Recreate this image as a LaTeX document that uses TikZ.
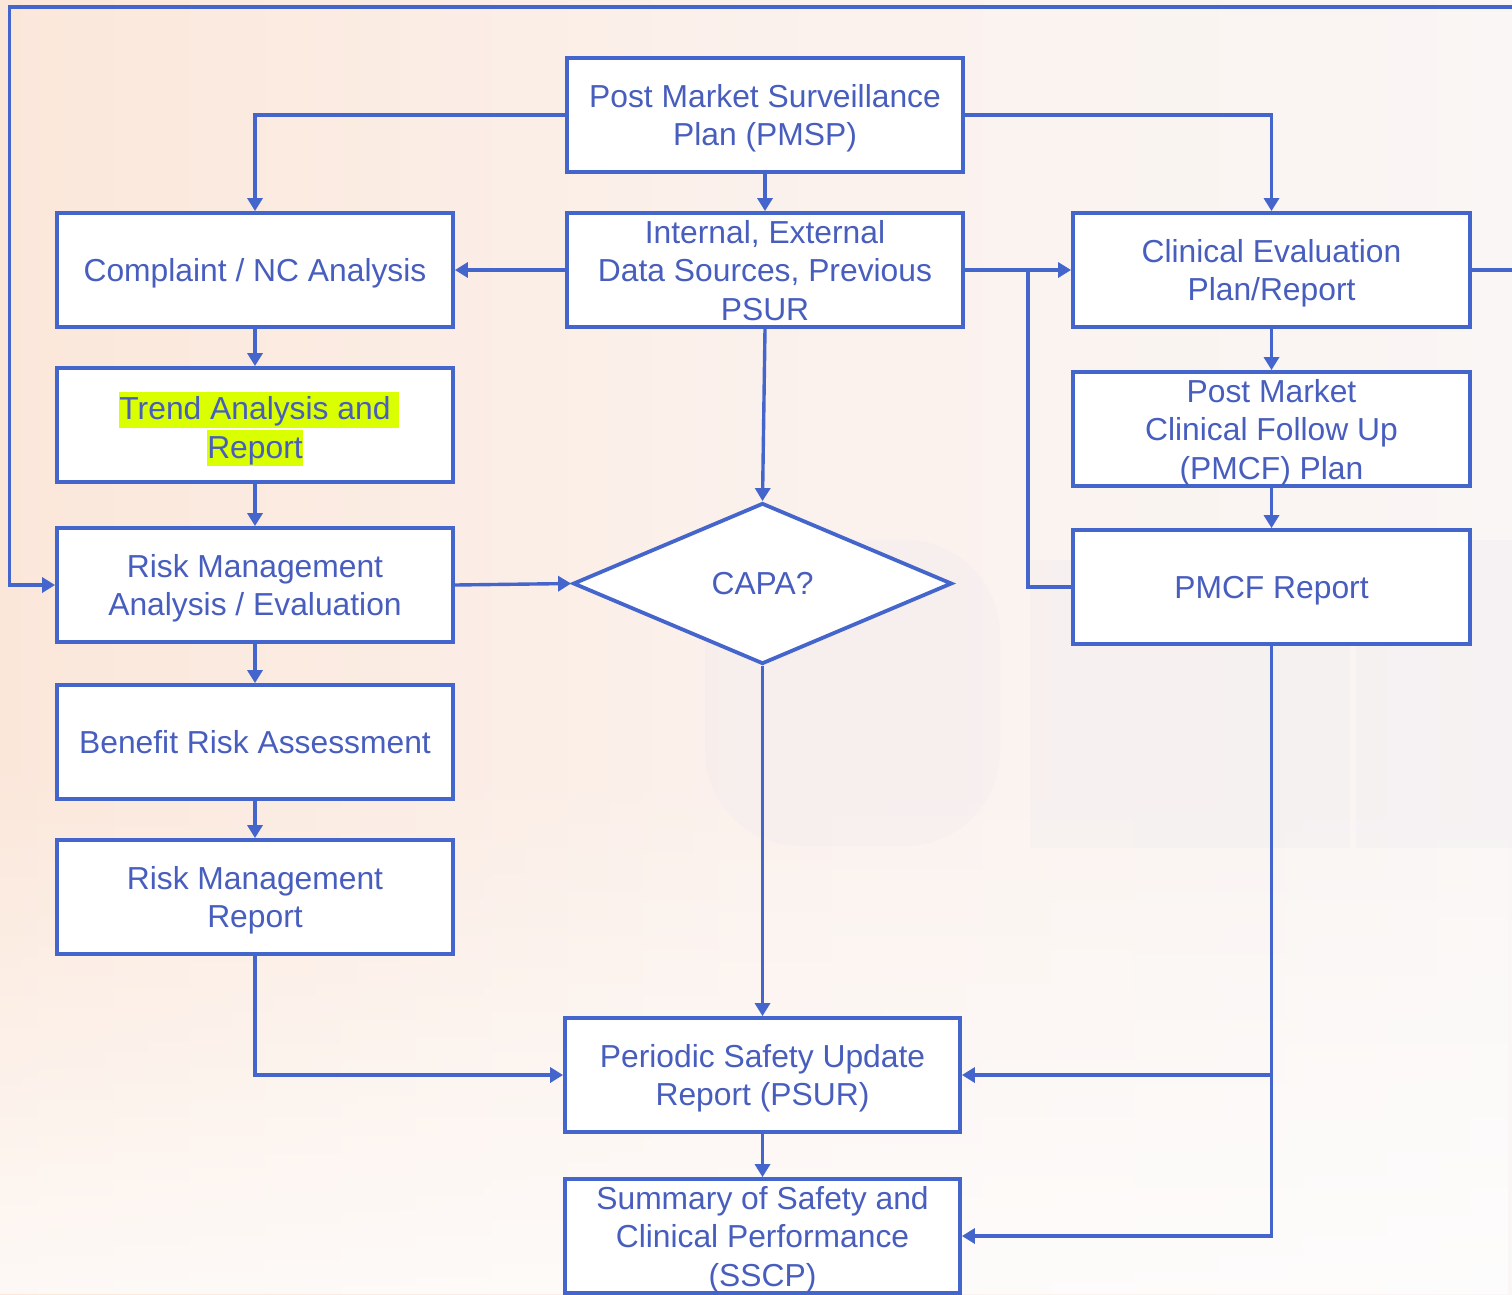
\documentclass[tikz,border=0pt]{standalone}
\usepackage{fontspec}
\setmainfont{Liberation Sans}
\usetikzlibrary{arrows.meta,shapes.geometric,fadings}
\definecolor{lineblue}{RGB}{68,102,204}
\definecolor{textblue}{RGB}{72,94,190}
\definecolor{hly}{RGB}{217,255,0}
\definecolor{bgpeach}{RGB}{251,231,218}
\definecolor{bgmid}{RGB}{251,241,236}
\definecolor{bgright}{RGB}{250,246,245}
\definecolor{wmark}{RGB}{241,236,240}
\newcommand\hlbox[1]{{\setlength{\fboxsep}{0pt}\colorbox{hly}{\rule[-8pt]{0pt}{36pt}#1}}}
\begin{document}
\begin{tikzpicture}[x=1pt,y=-1pt,
  box/.style={draw=lineblue, line width=3.8pt, fill=white, rectangle,
    minimum width=396pt, minimum height=114pt, inner sep=0pt, align=center,
    text=textblue, text depth=0pt, font=\fontsize{31.8}{38.5}\selectfont},
  dia/.style={draw=lineblue, line width=3.8pt, fill=white, diamond, aspect=2.35,
    minimum width=379pt, minimum height=161pt, inner sep=0pt, text depth=0pt,
    text=textblue, font=\fontsize{31.8}{38.5}\selectfont},
  conn/.style={draw=lineblue, line width=3.4pt},
  arr/.style={conn, -{Triangle[length=13pt,width=15pt]}}
  ]
\useasboundingbox (0,0) rectangle (1512,1294);
\clip (0,0) rectangle (1512,1294);
% background
\shade[left color=bgpeach, right color=bgright, middle color=bgmid] (0,0) rectangle (1512,1294);
\fill[white, opacity=0.75, path fading=north] (0,760) rectangle (1512,1294);
% watermark
\fill[wmark, opacity=0.35, rounded corners=95pt] (705,540) rectangle (1000,846);
\fill[wmark, opacity=0.35] (1030,560) rectangle (1350,848);
\fill[wmark, opacity=0.35] (1356,540) rectangle (1512,848);

% nodes
\node[box] (pmsp) at (765,115) {Post Market Surveillance\\Plan (PMSP)};
\node[box] (cna) at (255,270) {Complaint / NC Analysis};
\node[box] (ids) at (765,270) {Internal, External\\Data Sources, Previous\\PSUR};
\node[box, minimum width=397pt] (ce) at (1271.5,270) {Clinical Evaluation\\Plan/Report};
\node[box] (trend) at (255,425) {\hlbox{Trend Analysis and}\rlap{\hlbox{\ }}\\\hlbox{Report}};
\node[box, minimum width=397pt] (pmcfp) at (1271.5,429) {Post Market\\Clinical Follow Up\\(PMCF) Plan};
\node[box] (ram) at (255,585) {Risk Management\\Analysis / Evaluation};
\node[dia] (capa) at (762.5,583.5) {CAPA?};
\node[box, minimum width=397pt] (pmcfr) at (1271.5,587) {PMCF Report};
\node[box] (bra) at (255,742) {Benefit Risk Assessment};
\node[box] (rmr) at (255,897) {Risk Management\\Report};
\node[box, minimum width=395pt] (psur) at (762.5,1075) {Periodic Safety Update\\Report (PSUR)};
\node[box, minimum width=395pt] (sscp) at (762.5,1236) {Summary of Safety and\\Clinical Performance\\(SSCP)};

\coordinate (j1) at (1028,270);
\coordinate (outR) at (1540,270);
\coordinate (outTR) at (1540,7);
\coordinate (outTL) at (9.5,7);

% connectors
\draw[arr] (pmsp.west) -| (cna.north);
\draw[arr] (pmsp.east) -| (ce.north);
\draw[arr] (pmsp.south) -- (ids.north);
\draw[arr] (ids.west) -- (cna.east);
\draw[arr] (ids.east) -- (ce.west);
\draw[conn] (pmcfr.west) -| (j1);
\draw[arr] (ids.south) -- (capa.north);
\draw[arr] (cna.south) -- (trend.north);
\draw[arr] (trend.south) -- (ram.north);
\draw[arr] (ram.south) -- (bra.north);
\draw[arr] (bra.south) -- (rmr.north);
\draw[arr] (ram.east) -- (capa.west);
\draw[arr] (capa.south) -- (psur.north);
\draw[arr] (rmr.south) |- (psur.west);
\draw[arr] (ce.south) -- (pmcfp.north);
\draw[arr] (pmcfp.south) -- (pmcfr.north);
\draw[arr] (pmcfr.south) |- (sscp.east);
\draw[arr] (pmcfr.south |- psur.east) -- (psur.east);
\draw[arr] (psur.south) -- (sscp.north);
\draw[arr] (ce.east) -- (outR) -- (outTR) -- (outTL) |- (ram.west);
\end{tikzpicture}
\end{document}
